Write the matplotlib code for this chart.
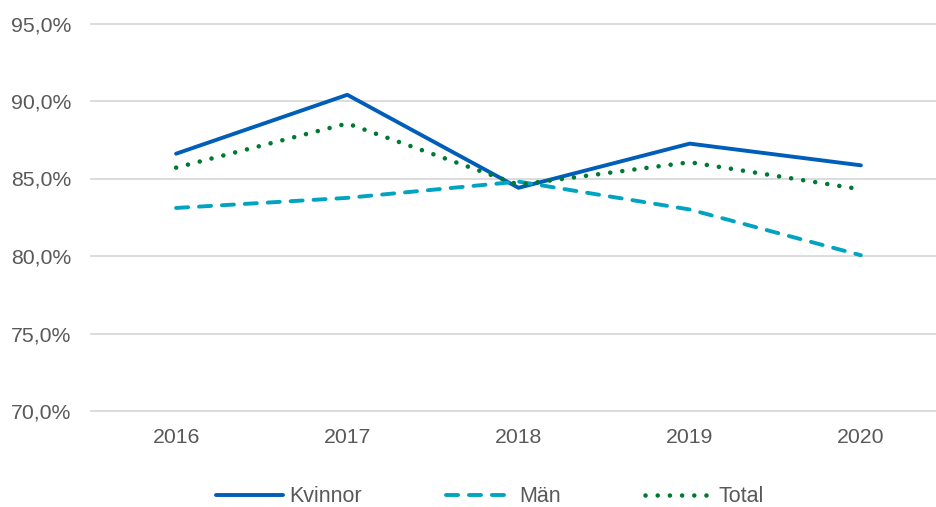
import matplotlib
matplotlib.use("Agg")
import matplotlib.pyplot as plt
from matplotlib.ticker import FuncFormatter

plt.rcParams['font.family'] = ['Liberation Sans', 'DejaVu Sans']

years = ["2016", "2017", "2018", "2019", "2020"]
kvinnor = [86.6, 90.4, 84.4, 87.25, 85.85]
man = [83.1, 83.75, 84.8, 83.0, 80.05]
total = [85.7, 88.55, 84.6, 86.05, 84.3]

fig = plt.figure(figsize=(9.36, 5.07), dpi=100)
ax = fig.add_axes([90.5/936, 1 - 411/507, 856/936, (411 - 23.5)/507])

x = list(range(len(years)))
ax.plot(x, kvinnor, color="#005EB8", lw=2.8, solid_capstyle="round", label="Kvinnor", zorder=3)
ax.plot(x, man, color="#00A3C0", lw=2.8, ls=(0, (3.1, 2.8)), dash_capstyle="round", label="Män", zorder=3)
ax.plot(x, total, color="#007A33", lw=3.3, ls=(0, (0.01, 2.65)), dash_capstyle="round", label="Total", zorder=3)

ax.set_xlim(-0.5, 4.5)
ax.set_ylim(70, 95)
ax.set_yticks([70, 75, 80, 85, 90, 95])
ax.yaxis.set_major_formatter(FuncFormatter(lambda v, p: f"{v:.1f}%".replace(".", ",")))
ax.set_xticks(x)
ax.set_xticklabels(years)
ax.grid(axis="y", color="#D9D9D9", lw=1.3)
for gl in ax.get_ygridlines():
    gl.set_clip_on(False)
ax.set_axisbelow(True)
for s in ax.spines.values():
    s.set_visible(False)
ax.tick_params(length=0, labelsize=15.3, colors="#595959")
ax.tick_params(axis="y", pad=14)
ax.tick_params(axis="x", pad=12)

leg = fig.legend(loc="center", bbox_to_anchor=(490/936, 1 - 497/507), ncol=3, frameon=False,
                 fontsize=15.5, handlelength=3.1, columnspacing=3.9, handletextpad=0.3,
                 borderaxespad=0, borderpad=0)
for t in leg.get_texts():
    t.set_color("#595959")

fig.savefig("out.png", dpi=100)
